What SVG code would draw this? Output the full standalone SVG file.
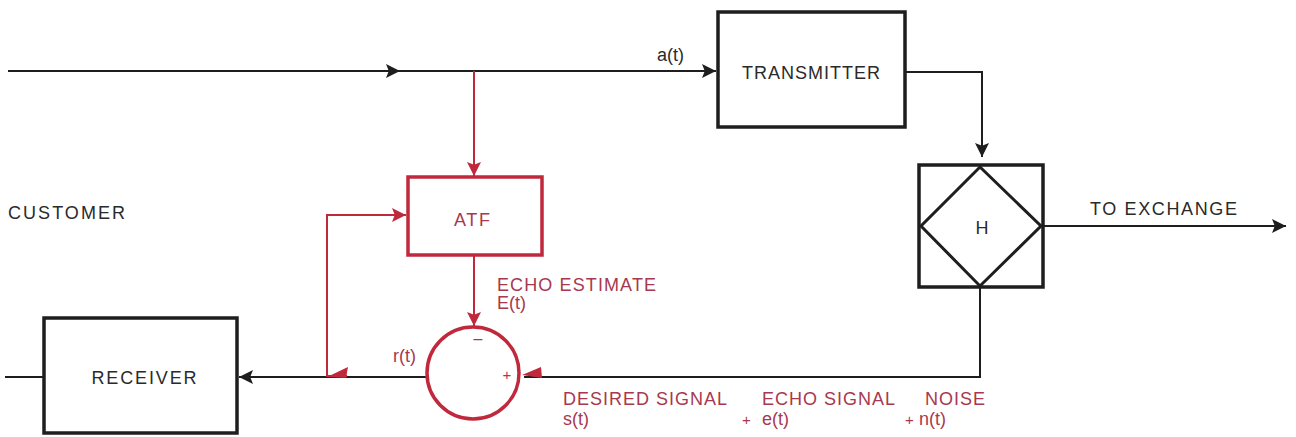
<svg xmlns="http://www.w3.org/2000/svg" width="1296" height="437" viewBox="0 0 1296 437">
<defs>
<style>
.blk{fill:none;stroke:#1e1e1e;stroke-width:2}
.box{fill:#fff;stroke:#1e1e1e;stroke-width:3.5}
.rbox{fill:#fff;stroke:#c0283c;stroke-width:3.5}
.red{fill:none;stroke:#c0283c;stroke-width:2}
.t{font-family:"Liberation Sans",Arial,sans-serif;font-size:18px;fill:#2a2a2a}
.rt{font-family:"Liberation Sans",Arial,sans-serif;font-size:18px;fill:#a8384e}
</style>
<marker id="ab" viewBox="0 0 10 10" refX="10" refY="5" markerWidth="20" markerHeight="14" markerUnits="userSpaceOnUse" orient="auto"><path d="M0,0 L10,5 L0,10 L2,5 Z" fill="#1e1e1e"/></marker>
<marker id="ar" viewBox="0 0 10 10" refX="10" refY="5" markerWidth="20" markerHeight="14" markerUnits="userSpaceOnUse" orient="auto"><path d="M0,0 L10,5 L0,10 L2,5 Z" fill="#c0283c"/></marker>
</defs>
<rect width="1296" height="437" fill="#fff"/>
<g id="connectors">
<line class="blk" x1="8" y1="71" x2="400" y2="71" marker-end="url(#ab)"/>
<line class="blk" x1="398" y1="71" x2="716" y2="71" marker-end="url(#ab)"/>
<polyline class="blk" points="905,72 982,72 982,157" marker-end="url(#ab)"/>
<line class="blk" x1="1043" y1="226" x2="1286" y2="226" marker-end="url(#ab)"/>
<polyline class="blk" points="980,287 980,377 524,377"/>
<line class="blk" x1="427" y1="377" x2="239" y2="377" marker-end="url(#ab)"/>
<line class="blk" x1="5" y1="377" x2="44" y2="377"/>
<line class="red" x1="474" y1="71" x2="474" y2="176" marker-end="url(#ar)"/>
<line class="red" x1="474" y1="256" x2="474" y2="326" marker-end="url(#ar)"/>
<polyline class="red" points="347,376 327,376 327,215 406,215" marker-end="url(#ar)"/>
<polygon points="327,377 348,367 346,378" fill="#c0283c"/>
<polygon points="522,375 541,367 542,378" fill="#c0283c"/>
</g>
<g id="transmitter">
<rect class="box" x="718" y="12" width="187" height="115"/>
<text class="t" x="811" y="79" text-anchor="middle" textLength="138" lengthAdjust="spacing">TRANSMITTER</text>
</g>
<g id="hybrid">
<rect class="box" x="919" y="165" width="124" height="122"/>
<polygon class="blk" points="980,167 1041,226 980,286 921,226" style="stroke-width:3"/>
<text class="t" x="982" y="234" text-anchor="middle">H</text>
</g>
<g id="atf">
<rect class="rbox" x="408" y="177" width="134" height="78"/>
<text class="rt" x="472" y="226" text-anchor="middle" textLength="36" lengthAdjust="spacing">ATF</text>
</g>
<g id="summer">
<circle cx="473" cy="373" r="46" fill="#fff" stroke="#c0283c" stroke-width="3.5"/>
<text class="rt" x="478" y="344" text-anchor="middle" style="font-size:16px">–</text>
<text class="rt" x="507" y="380" text-anchor="middle" style="font-size:15px">+</text>
</g>
<g id="receiver">
<rect class="box" x="44" y="318" width="193" height="115"/>
<text class="t" x="144" y="384" text-anchor="middle" textLength="105" lengthAdjust="spacing">RECEIVER</text>
</g>
<g id="labels">
<text class="t" x="657" y="61">a(t)</text>
<text class="t" x="8" y="219" textLength="117" lengthAdjust="spacing">CUSTOMER</text>
<text class="t" x="1090" y="215" textLength="147" lengthAdjust="spacing">TO EXCHANGE</text>
<text class="rt" x="497" y="291" textLength="159" lengthAdjust="spacing">ECHO ESTIMATE</text>
<text class="rt" x="497" y="309">E(t)</text>
<text class="rt" x="393" y="362">r(t)</text>
<text class="rt" x="563" y="405" textLength="164" lengthAdjust="spacing">DESIRED SIGNAL</text>
<text class="rt" x="563" y="425">s(t)</text>
<text class="rt" x="762" y="405" textLength="133" lengthAdjust="spacing">ECHO SIGNAL</text>
<text class="rt" x="742" y="425" style="font-size:15px">+</text>
<text class="rt" x="762" y="425">e(t)</text>
<text class="rt" x="925" y="405" textLength="60" lengthAdjust="spacing">NOISE</text>
<text class="rt" x="905" y="425" style="font-size:15px">+</text>
<text class="rt" x="919" y="425">n(t)</text>
</g>
</svg>
